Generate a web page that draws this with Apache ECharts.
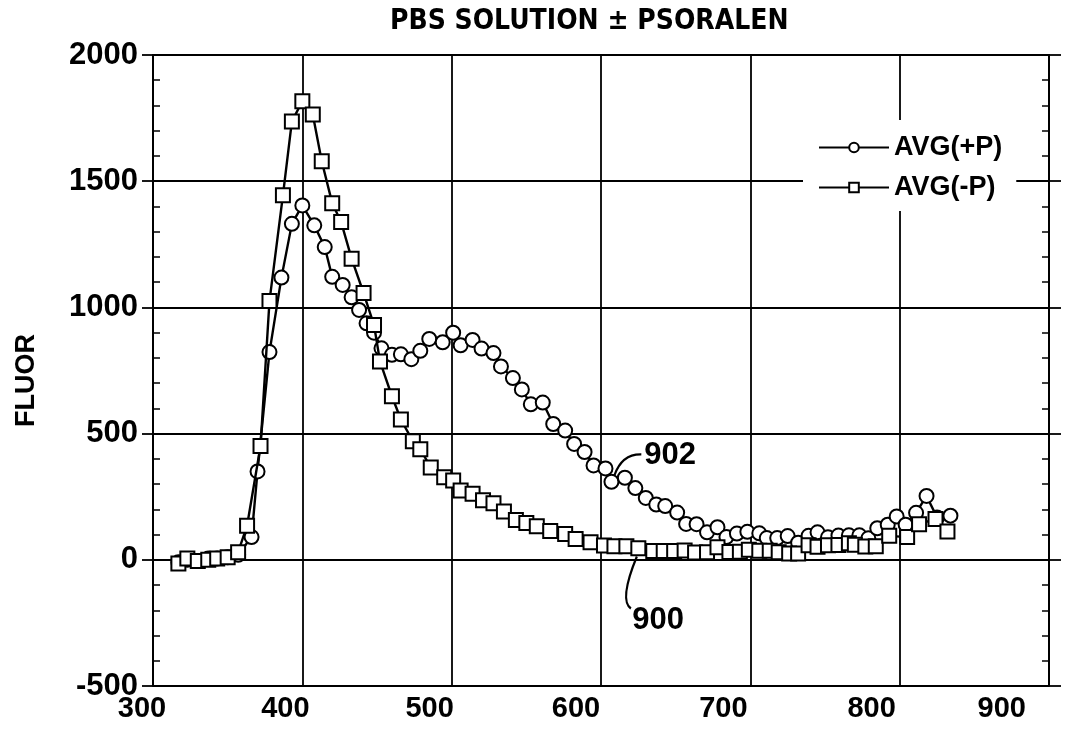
<!DOCTYPE html>
<html><head><meta charset="utf-8">
<script src="https://cdn.jsdelivr.net/npm/echarts@6/dist/echarts.min.js"></script>
<style>html,body{margin:0;padding:0;background:#fff}#c{width:1082px;height:745px}</style>
</head><body><div id="c"></div>
<script>
const chartTitle = 'PBS SOLUTION \u00B1 PSORALEN';
const yAxisTitle = 'FLUOR';
const seriesNames = ['AVG(+P)', 'AVG(-P)'];
const xRange = [300, 900];
const yRange = [-500, 2000];

// AVG(+P): wavelength and fluorescence (circles)
const wavePlus = [317, 323, 330, 337, 343, 350, 357, 366, 370, 378, 386, 393, 400, 408, 415, 420, 427, 433, 438, 443, 448, 453, 460, 466, 473, 479, 485, 494, 501, 506, 514, 520, 528, 533, 541, 547, 553, 561, 568, 576, 582, 589, 595, 603, 607, 616, 623, 630, 637, 643, 651, 657, 664, 671, 678, 684, 691, 698, 706, 711, 718, 725, 732, 739, 745, 752, 759, 766, 773, 779, 785, 792, 798, 804, 811, 818, 825, 834];
const fluorPlus = [-10, 0, -5, 5, 5, 10, 20, 90, 350, 823, 1118, 1331, 1404, 1325, 1239, 1121, 1089, 1040, 990, 937, 900, 838, 812, 814, 795, 828, 875, 862, 900, 850, 871, 837, 819, 766, 720, 675, 616, 623, 538, 512, 459, 427, 374, 362, 309, 325, 284, 245, 219, 213, 187, 142, 141, 109, 129, 90, 104, 111, 105, 86, 86, 94, 68, 95, 109, 89, 96, 97, 97, 85, 125, 139, 172, 139, 186, 253, 168, 175];

// AVG(-P): wavelength and fluorescence (squares)
const waveMinus = [317, 323, 330, 337, 343, 350, 357, 363, 372, 378, 387, 393, 400, 407, 413, 420, 426, 433, 441, 448, 452, 460, 466, 474, 479, 486, 495, 501, 506, 514, 521, 528, 535, 543, 550, 557, 566, 576, 583, 593, 602, 609, 617, 625, 635, 642, 649, 656, 663, 671, 678, 686, 693, 699, 706, 713, 719, 726, 732, 739, 745, 752, 759, 766, 770, 777, 784, 793, 805, 813, 824, 832];
const fluorMinus = [-15, 5, -5, 0, 5, 10, 30, 135, 451, 1025, 1444, 1737, 1817, 1764, 1579, 1413, 1338, 1193, 1057, 930, 786, 648, 556, 470, 438, 366, 327, 314, 275, 262, 236, 224, 191, 158, 146, 133, 114, 102, 82, 70, 57, 54, 54, 46, 35, 35, 35, 37, 29, 30, 50, 31, 32, 40, 36, 36, 30, 25, 25, 58, 52, 58, 59, 66, 60, 53, 54, 95, 90, 141, 162, 112];

// curve labels: text, label anchor, leader start, control point, leader end (all in data units)
const curveLabels = [
  {text: '902', at: [629, 415], from: [609, 335], ctrl: [614, 420], to: [627, 418]},
  {text: '900', at: [621, -240], from: [624, 13], ctrl: [612, -160], to: [620, -193]}
];

const FONT = "'Liberation Sans', Arial, sans-serif";
const NARROW = "'Liberation Sans Narrow', 'DejaVu Sans Condensed', 'Liberation Sans', sans-serif";
const black = '#000';
const labelStyle = {color: black, fontFamily: FONT, fontSize: 29, fontWeight: 'bold'};

// the scanned x labels drift left of their grid lines: right padding (px) per label
// (last label is right-aligned to its tick, so its padding is the extra shift)
const xLabelPad = {300: 22, 400: 34, 500: 44, 600: 50, 700: 54, 800: 56, 900: 23};
const xRich = {};
Object.keys(xLabelPad).forEach(k => {
  xRich['s' + k] = Object.assign({padding: [0, xLabelPad[k], 0, 0]}, labelStyle);
});

const plusData = wavePlus.map((w, i) => {
  const d = {value: [w, fluorPlus[i]]};
  if (w === 818) d.itemStyle = {color: black};
  return d;
});
const minusData = waveMinus.map((w, i) => [w, fluorMinus[i]]);

const chart = echarts.init(document.getElementById('c'), null, {renderer: 'canvas'});
const option = {
  backgroundColor: '#fff',
  animation: false,
  title: {
    text: chartTitle, left: 385, top: 3,
    textStyle: {fontFamily: NARROW, fontSize: 28, fontWeight: 'bold', color: black}
  },
  grid: {left: 153, right: 33, top: 55, bottom: 59},
  legend: {
    orient: 'vertical', left: 803, top: 120, padding: [14, 14, 10, 15],
    itemWidth: 70, itemHeight: 12, itemGap: 13,
    backgroundColor: '#fff',
    textStyle: {fontFamily: FONT, fontSize: 27, fontWeight: 'bold', color: black},
    data: seriesNames
  },
  xAxis: [{
    type: 'value', min: xRange[0], max: xRange[1], interval: 100, position: 'bottom',
    axisLine: {show: true, lineStyle: {color: black, width: 2}},
    axisTick: {show: false},
    axisLabel: Object.assign({margin: 8, alignMaxLabel: 'right', formatter: v => '{s' + v + '|' + v + '}', rich: xRich}, labelStyle),
    splitLine: {show: true, lineStyle: {color: black, width: 1.8}}
  }, {
    type: 'value', min: xRange[0], max: xRange[1], interval: 100, position: 'top',
    axisLine: {show: true, onZero: false, lineStyle: {color: black, width: 2}},
    axisTick: {show: false}, axisLabel: {show: false}, splitLine: {show: false}
  }],
  yAxis: [{
    type: 'value', min: yRange[0], max: yRange[1], interval: 500, position: 'left',
    name: yAxisTitle, nameLocation: 'middle', nameGap: 113, nameRotate: 90,
    nameTextStyle: {fontFamily: FONT, fontSize: 27, fontWeight: 'bold', color: black, padding: [0, 20, 0, 0]},
    axisLine: {show: true, lineStyle: {color: black, width: 2}},
    axisTick: {show: true, length: 11, lineStyle: {color: black, width: 1.8}},
    axisLabel: Object.assign({}, labelStyle, {margin: 15, fontSize: 31, formatter: v => String(v)}),
    splitLine: {show: true, lineStyle: {color: black, width: 1.8}}
  }, {
    type: 'value', min: yRange[0], max: yRange[1], interval: 500, position: 'left',
    axisLine: {show: false}, axisLabel: {show: false}, splitLine: {show: false},
    axisTick: {show: false, inside: true},
    minorTick: {show: true, splitNumber: 5, length: 7, lineStyle: {color: black, width: 1.5}}
  }, {
    type: 'value', min: yRange[0], max: yRange[1], interval: 500, position: 'right',
    axisLine: {show: true, onZero: false, lineStyle: {color: black, width: 2}},
    axisTick: {show: true, length: 12, lineStyle: {color: black, width: 1.8}},
    axisLabel: {show: false}, splitLine: {show: false}
  }, {
    type: 'value', min: yRange[0], max: yRange[1], interval: 500, position: 'right',
    axisLine: {show: false}, axisLabel: {show: false}, splitLine: {show: false},
    axisTick: {show: false, inside: true},
    minorTick: {show: true, splitNumber: 5, length: 7, lineStyle: {color: black, width: 1.5}}
  }],
  series: [{
    name: seriesNames[0], type: 'line', data: plusData,
    symbol: 'emptyCircle', symbolSize: 14,
    lineStyle: {color: black, width: 2.4},
    itemStyle: {color: black, borderColor: black, borderWidth: 3},
    z: 3
  }, {
    name: seriesNames[1], type: 'line', data: minusData,
    symbol: 'emptyRect', symbolSize: 14,
    lineStyle: {color: black, width: 2.4},
    itemStyle: {color: black, borderColor: black, borderWidth: 3},
    z: 4
  }]
};
chart.setOption(option);

const px = p => chart.convertToPixel({xAxisIndex: 0, yAxisIndex: 0}, p);
const graphics = [];
curveLabels.forEach(c => {
  const a = px(c.from), b = px(c.to), k = px(c.ctrl), t = px(c.at);
  graphics.push({
    type: 'bezierCurve',
    shape: {x1: a[0], y1: a[1], x2: b[0], y2: b[1], cpx1: k[0], cpy1: k[1]},
    style: {stroke: black, lineWidth: 2.2, fill: null}, z: 10
  });
  graphics.push({
    type: 'text', x: t[0], y: t[1],
    style: {text: c.text, fontFamily: FONT, fontSize: 31, fontWeight: 'bold', fill: black, textVerticalAlign: 'middle', textAlign: 'left'},
    z: 10
  });
});
chart.setOption({graphic: graphics});
</script>
</body></html>
